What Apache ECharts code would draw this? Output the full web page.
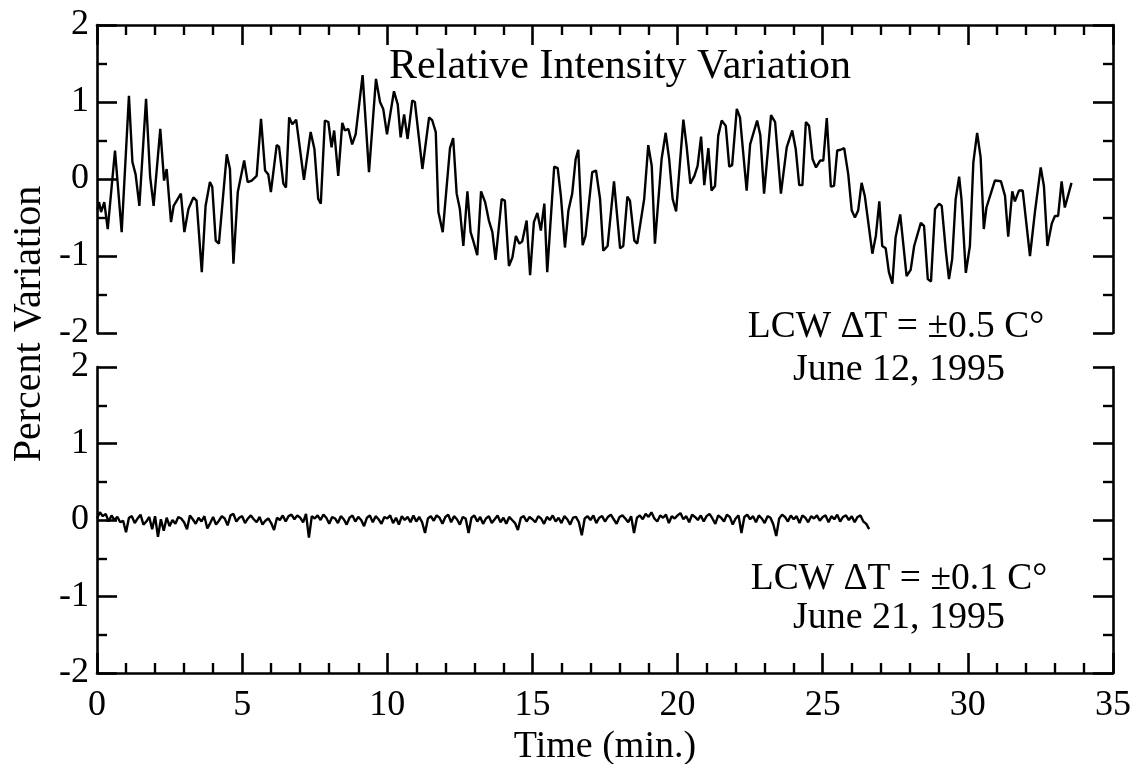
<!DOCTYPE html>
<html>
<head>
<meta charset="utf-8">
<script src="https://cdn.jsdelivr.net/npm/echarts@6/dist/echarts.min.js"></script>
<style>
html,body{margin:0;padding:0;background:#fff;}
#chart{width:1137px;height:764px;}
</style>
</head>
<body>
<div id="chart"></div>
<script>
// ---- Data ----
const chartTitle = 'Relative Intensity Variation';
const xAxisName = 'Time (min.)';
const yAxisName = 'Percent Variation';
const topLabel1 = 'LCW \u0394T = \u00B10.5 C\u00B0';
const topLabel2 = 'June 12, 1995';
const bottomLabel1 = 'LCW \u0394T = \u00B10.1 C\u00B0';
const bottomLabel2 = 'June 21, 1995';

// Top panel (June 12): time (min) and percent variation
const topTimes = [0.02,0.07,0.14,0.25,0.37,0.62,0.85,1.10,1.22,1.33,1.46,1.69,1.83,1.95,2.18,2.31,2.40,2.55,2.64,2.89,3.01,3.15,3.32,3.43,3.61,3.74,3.89,3.97,4.09,4.20,4.47,4.58,4.70,4.85,5.07,5.19,5.33,5.50,5.65,5.79,5.90,5.99,6.19,6.27,6.42,6.51,6.62,6.73,6.86,7.13,7.36,7.49,7.62,7.71,7.85,7.97,8.08,8.17,8.31,8.45,8.54,8.66,8.79,8.91,9.15,9.37,9.61,9.75,9.86,9.99,10.23,10.36,10.46,10.58,10.70,10.86,10.95,11.21,11.44,11.55,11.67,11.76,11.91,12.16,12.27,12.39,12.50,12.62,12.76,12.87,12.96,13.10,13.23,13.37,13.50,13.62,13.73,13.94,14.05,14.19,14.31,14.43,14.55,14.65,14.80,14.92,15.05,15.17,15.29,15.41,15.51,15.75,15.87,15.98,16.12,16.24,16.37,16.49,16.58,16.73,16.83,17.06,17.19,17.33,17.44,17.59,17.81,18.02,18.13,18.27,18.36,18.51,18.61,18.85,18.99,19.11,19.22,19.45,19.59,19.71,19.83,19.95,20.20,20.31,20.44,20.58,20.69,20.81,20.92,21.06,21.17,21.29,21.40,21.52,21.66,21.78,21.88,22.04,22.15,22.38,22.50,22.74,22.85,22.98,23.22,23.36,23.56,23.76,23.95,24.07,24.19,24.30,24.42,24.53,24.65,24.77,24.91,25.02,25.14,25.28,25.39,25.50,25.62,25.74,25.88,26.00,26.11,26.22,26.34,26.45,26.71,26.83,26.95,27.05,27.17,27.28,27.40,27.51,27.67,27.89,28.03,28.15,28.38,28.49,28.62,28.73,28.87,29.01,29.10,29.24,29.35,29.46,29.58,29.70,29.78,29.93,30.07,30.19,30.32,30.44,30.55,30.64,30.79,30.93,31.14,31.28,31.39,31.53,31.62,31.76,31.89,32.14,32.31,32.51,32.62,32.74,32.89,33.00,33.11,33.23,33.34,33.57];
const topValues = [-0.40,-0.30,-0.43,-0.30,-0.65,0.37,-0.69,1.08,0.22,0.06,-0.35,1.04,0.03,-0.35,0.65,-0.02,0.13,-0.56,-0.35,-0.19,-0.69,-0.39,-0.24,-0.28,-1.21,-0.35,-0.04,-0.10,-0.80,-0.84,0.32,0.13,-1.10,-0.17,0.24,-0.04,-0.02,0.04,0.78,0.11,0.06,-0.17,0.44,0.42,-0.06,-0.11,0.80,0.71,0.77,-0.01,0.61,0.39,-0.26,-0.32,0.76,0.74,0.41,0.63,0.04,0.73,0.63,0.65,0.45,0.58,1.35,0.09,1.30,1.00,0.91,0.58,1.14,0.97,0.54,0.84,0.52,1.02,1.00,0.13,0.80,0.76,0.61,-0.43,-0.69,0.40,0.53,-0.19,-0.39,-0.87,-0.16,-0.69,-0.80,-0.99,-0.16,-0.30,-0.54,-0.69,-1.05,-0.26,-0.28,-1.13,-1.02,-0.74,-0.84,-0.81,-0.54,-1.25,-0.56,-0.44,-0.67,-0.32,-1.21,0.16,0.14,-0.22,-0.89,-0.41,-0.19,0.26,0.38,-0.86,-0.74,0.09,0.11,-0.26,-0.93,-0.87,-0.03,-0.90,-0.87,-0.23,-0.28,-0.80,-0.84,-0.26,0.44,0.17,-0.84,0.26,0.60,0.26,-0.26,-0.42,0.77,0.43,-0.06,0.04,0.17,0.55,-0.08,0.40,-0.15,-0.09,0.56,0.76,0.69,0.16,0.18,0.91,0.80,-0.15,0.45,0.76,0.57,-0.19,0.83,0.74,-0.19,0.41,0.63,0.39,-0.08,-0.08,0.74,0.69,0.26,0.15,0.24,0.24,0.79,-0.10,-0.09,0.37,0.38,0.40,0.06,-0.41,-0.50,-0.41,-0.05,-0.22,-0.97,-0.74,-0.29,-0.87,-0.90,-1.21,-1.36,-0.76,-0.46,-1.26,-1.18,-0.87,-0.57,-0.61,-1.30,-1.33,-0.39,-0.32,-0.35,-0.93,-1.30,-1.04,-0.26,0.03,-0.26,-1.22,-0.87,0.22,0.60,0.28,-0.65,-0.37,-0.19,-0.02,-0.03,-0.22,-0.75,-0.16,-0.29,-0.15,-0.15,-1.00,-0.43,0.15,-0.09,-0.87,-0.58,-0.48,-0.48,-0.03,-0.37,-0.05];

// Bottom panel (June 21): sampled every 0.1 min from t = 0
const bottomStart = 0;
const bottomStep = 0.1;
const bottomValues = [
 0.02,0.10,0.05,0.08,-0.02,0.06,0.00,0.04,-0.03,-0.01,
 -0.16,0.03,0.05,-0.04,0.02,0.07,-0.06,-0.02,0.04,-0.12,
 0.05,-0.22,0.01,-0.14,0.03,-0.08,0.00,-0.05,0.04,0.02,
 -0.03,-0.12,0.06,0.01,-0.05,0.03,-0.02,0.05,-0.11,-0.04,
 0.04,-0.06,-0.01,0.05,0.02,-0.07,0.06,0.08,-0.02,0.03,
 0.05,-0.04,0.02,0.06,0.01,-0.03,0.04,-0.06,-0.01,0.02,
 -0.04,-0.13,0.03,0.00,0.06,-0.02,0.05,0.07,0.01,0.06,
 0.03,-0.03,0.08,-0.23,0.05,0.02,0.06,0.00,0.07,0.03,
 -0.05,0.04,0.02,-0.04,0.05,0.01,-0.06,0.03,0.06,-0.02,
 0.04,0.00,-0.08,0.03,0.06,-0.03,0.05,0.01,-0.05,0.04,
 0.02,0.06,-0.04,0.03,-0.06,0.05,0.00,0.04,-0.03,0.06,
 -0.02,0.04,-0.03,-0.17,0.02,0.05,-0.01,0.06,0.03,-0.05,
 0.04,0.07,-0.03,0.05,0.01,-0.06,0.04,0.02,-0.17,0.03,
 0.06,-0.02,0.04,-0.05,0.02,0.05,-0.04,0.01,0.06,-0.03,
 0.03,-0.05,0.04,0.00,-0.04,-0.13,0.03,0.05,-0.02,0.04,
 0.01,-0.03,0.05,0.02,-0.05,0.04,0.00,0.06,-0.02,0.03,
 -0.04,0.05,0.01,-0.06,0.03,0.04,-0.03,-0.20,0.02,0.05,
 0.00,0.06,-0.04,0.03,0.05,-0.02,0.04,0.07,0.01,-0.05,
 0.04,0.06,0.02,-0.03,0.05,-0.17,0.03,0.06,0.01,0.08,
 0.04,0.10,0.02,-0.02,0.06,0.03,0.07,-0.04,0.05,0.02,
 0.06,0.09,0.01,0.05,-0.03,0.07,0.04,0.00,0.06,-0.02,
 0.05,0.08,0.02,-0.05,0.06,0.03,-0.02,0.07,0.04,-0.06,
 0.02,0.06,-0.17,0.04,0.07,0.01,0.05,-0.03,0.06,0.02,
 -0.04,0.05,0.03,-0.06,-0.21,0.02,0.07,0.04,-0.02,0.06,
 0.01,0.05,-0.04,0.06,0.03,-0.03,0.05,0.02,0.06,-0.01,
 0.04,0.06,-0.03,0.05,0.01,0.07,-0.02,0.04,0.06,0.00,
 0.05,-0.03,0.04,0.06,-0.02,-0.05,-0.12
];

// ---- Chart ----
const FONT = "'Liberation Serif','Times New Roman',serif";
const topData = topTimes.map((t, i) => [t, topValues[i]]);
const bottomData = bottomValues.map((v, i) => [+(bottomStart + i * bottomStep).toFixed(2), v]);

const axisLine = {show: true, onZero: false, lineStyle: {color: '#000', width: 2.6}};
const tick = {show: true, inside: true, length: 20, lineStyle: {color: '#000', width: 2.6}};
function xAx(grid, pos, showLabel) {
  return {
    gridIndex: grid, type: 'value', min: 0, max: 35, interval: 5, position: pos,
    axisLine: axisLine, axisTick: tick,
    minorTick: {show: true, splitNumber: 5, length: 10, lineStyle: {color: '#000', width: 2.4}},
    splitLine: {show: false}, minorSplitLine: {show: false},
    axisLabel: {show: showLabel, color: '#000', fontFamily: FONT, fontSize: 36, margin: 15},
    name: showLabel ? xAxisName : '', nameLocation: 'middle', nameGap: 55,
    nameTextStyle: {color: '#000', fontFamily: FONT, fontSize: 38}
  };
}
function yAx(grid, pos, showLabel) {
  return {
    gridIndex: grid, type: 'value', min: -2, max: 2, interval: 1, position: pos,
    axisLine: axisLine, axisTick: tick,
    minorTick: {show: true, splitNumber: 2, length: 10, lineStyle: {color: '#000', width: 2.4}},
    splitLine: {show: false}, minorSplitLine: {show: false},
    axisLabel: {show: showLabel, color: '#000', fontFamily: FONT, fontSize: 36, margin: 8}
  };
}
function txt(x, y, s, size, rot) {
  return {type: 'text', x: x, y: y, rotation: rot || 0,
    style: {text: s, fill: '#000', font: size + 'px ' + FONT, textAlign: 'center', textVerticalAlign: 'middle'}};
}

const chart = echarts.init(document.getElementById('chart'), null, {renderer: 'canvas'});
chart.setOption({
  animation: false,
  backgroundColor: '#fff',
  grid: [
    {left: 97, right: 24, top: 25, height: 308, containLabel: false, outerBoundsMode: 'none'},
    {left: 97, right: 24, top: 367, height: 306, containLabel: false, outerBoundsMode: 'none'}
  ],
  xAxis: [xAx(0, 'top', false), xAx(1, 'bottom', true)],
  yAxis: [yAx(0, 'left', true), yAx(0, 'right', false), yAx(1, 'left', true), yAx(1, 'right', false)],
  series: [
    {type: 'line', xAxisIndex: 0, yAxisIndex: 0, data: topData, showSymbol: false,
     lineStyle: {color: '#000', width: 2.4}, z: 1},
    {type: 'line', xAxisIndex: 1, yAxisIndex: 2, data: bottomData, showSymbol: false,
     lineStyle: {color: '#000', width: 2.4}, z: 1}
  ],
  graphic: [
    txt(620, 67, chartTitle, 42),
    txt(896, 327, topLabel1, 37.5),
    txt(899, 370, topLabel2, 38),
    txt(899, 579, bottomLabel1, 37.5),
    txt(899, 618, bottomLabel2, 38),
    txt(29, 324, yAxisName, 40, Math.PI / 2)
  ]
});
</script>
</body>
</html>
